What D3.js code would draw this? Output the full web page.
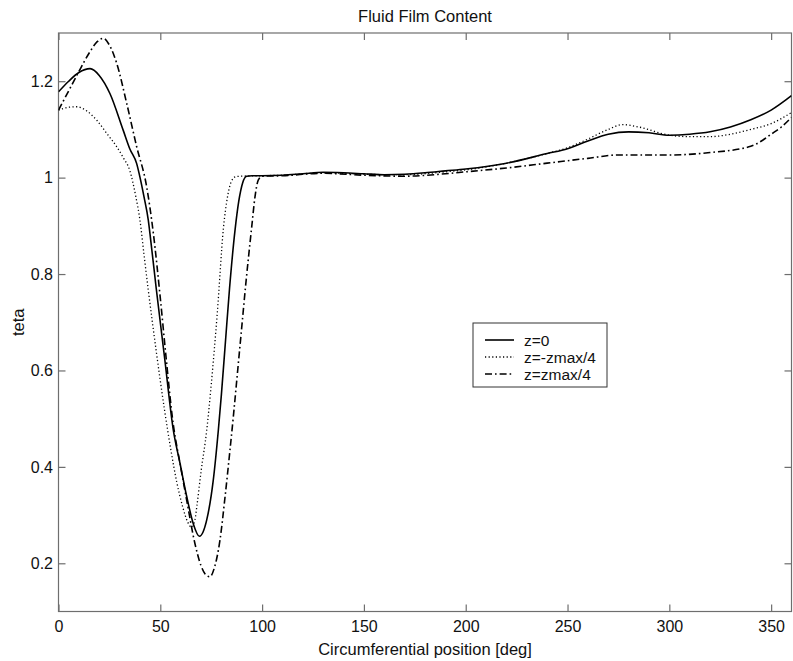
<!DOCTYPE html>
<html>
<head>
<meta charset="utf-8">
<script src="https://cdn.jsdelivr.net/npm/d3@7"></script>
<style>
  html, body { margin: 0; padding: 0; background: #fff; }
  svg { display: block; font-family: "Liberation Sans", Arial, sans-serif; }
</style>
</head>
<body>
<svg id="chart" width="793" height="661"></svg>
<script>
// ---- data ----
const title = "Fluid Film Content";
const xLabel = "Circumferential position [deg]";
const yLabel = "teta";
const xTicks = [0, 50, 100, 150, 200, 250, 300, 350];
const yTicks = [0.2, 0.4, 0.6, 0.8, 1, 1.2];
const seriesNames = ["z=0", "z=-zmax/4", "z=zmax/4"];

const solidX = [0, 5, 10, 15.5, 20, 25.3, 31.8, 35, 38.4, 40, 42, 44.1, 45.3, 48, 52, 56.4, 59.7, 63, 66.2, 69.2, 71, 72.8, 76, 78.5, 80, 82, 84, 86.7, 88.5, 90.5, 92.4, 95, 100, 110, 120, 130, 140, 150, 160, 170, 180, 190, 200, 220, 240, 250, 260, 270, 280, 290, 300, 310, 320, 330, 340, 350, 360];
const solidY = [1.178, 1.2, 1.218, 1.226, 1.212, 1.174, 1.098, 1.06, 1.029, 1.001, 0.96, 0.912, 0.87, 0.77, 0.63, 0.476, 0.407, 0.338, 0.282, 0.256, 0.265, 0.29, 0.372, 0.476, 0.55, 0.66, 0.77, 0.891, 0.95, 0.99, 1.003, 1.004, 1.004, 1.005, 1.008, 1.011, 1.01, 1.008, 1.006, 1.007, 1.01, 1.014, 1.018, 1.03, 1.05, 1.06, 1.076, 1.09, 1.095, 1.093, 1.088, 1.09, 1.095, 1.105, 1.12, 1.14, 1.17];

const dottedX = [0, 5, 9, 14, 18.8, 24, 28.6, 32, 35, 38, 40, 42, 44, 48, 52, 55, 58, 61, 63.5, 65.4, 67, 68, 70, 72.8, 75, 78, 81, 83, 85, 87, 90, 100, 110, 130, 150, 170, 190, 200, 220, 240, 250, 260, 270, 277, 285, 300, 310, 320, 330, 340, 350, 360];
const dottedY = [1.14, 1.146, 1.147, 1.138, 1.119, 1.09, 1.064, 1.04, 1.015, 0.96, 0.912, 0.84, 0.77, 0.64, 0.52, 0.44, 0.37, 0.317, 0.285, 0.275, 0.29, 0.32, 0.39, 0.476, 0.57, 0.72, 0.895, 0.96, 0.993, 1.002, 1.003, 1.004, 1.005, 1.01, 1.007, 1.006, 1.012, 1.016, 1.03, 1.05, 1.062, 1.08, 1.1, 1.11, 1.105, 1.088, 1.085, 1.085, 1.09, 1.1, 1.112, 1.135];

const dashX = [0, 5, 10, 15, 19, 22, 25, 28.6, 33.5, 38.4, 43.3, 46.6, 50, 53, 56, 60, 63, 67, 70, 72, 74.4, 76.5, 79.3, 81.8, 84.2, 86, 88, 90, 92, 94.9, 96.5, 98.1, 100, 110, 130, 150, 170, 190, 200, 220, 240, 260, 275, 300, 320, 340, 346, 350, 355, 360];
const dashY = [1.14, 1.18, 1.22, 1.258, 1.282, 1.289, 1.275, 1.237, 1.154, 1.064, 0.981, 0.884, 0.75, 0.62, 0.5, 0.4, 0.33, 0.241, 0.195, 0.178, 0.172, 0.19, 0.248, 0.338, 0.434, 0.51, 0.6, 0.69, 0.78, 0.898, 0.96, 0.995, 1.003, 1.004, 1.009, 1.005, 1.003, 1.008, 1.012, 1.02, 1.03, 1.04, 1.047, 1.047, 1.052, 1.065, 1.078, 1.09, 1.105, 1.125];

// ---- layout ----
const svg = d3.select("#chart");
const L = 58.5, R = 791.5, T = 33, B = 611.5;
const x = d3.scaleLinear().domain([0, 360]).range([L, R]);
const y = d3.scaleLinear().domain([0.1, 1.3]).range([B, T]);
const axisColor = "#6e6e6e";
const tickLen = 7;

// frame
svg.append("rect").attr("x", L).attr("y", T).attr("width", R - L).attr("height", B - T)
  .attr("fill", "none").attr("stroke", axisColor).attr("stroke-width", 1.2);

// axes via d3 (inward ticks)
const gx = svg.append("g").attr("transform", `translate(0,${B})`)
  .call(d3.axisBottom(x).tickValues(xTicks).tickSizeInner(-tickLen).tickSizeOuter(0).tickPadding(9).tickFormat(d3.format("")));
const gxT = svg.append("g").attr("transform", `translate(0,${T})`)
  .call(d3.axisTop(x).tickValues(xTicks).tickSizeInner(-tickLen).tickSizeOuter(0).tickFormat(""));
const gy = svg.append("g").attr("transform", `translate(${L},0)`)
  .call(d3.axisLeft(y).tickValues(yTicks).tickSizeInner(-tickLen).tickSizeOuter(0).tickPadding(5.5).tickFormat(d3.format("")));
const gyR = svg.append("g").attr("transform", `translate(${R},0)`)
  .call(d3.axisRight(y).tickValues(yTicks).tickSizeInner(-tickLen).tickSizeOuter(0).tickFormat(""));
[gx, gxT, gy, gyR].forEach(g => {
  g.select(".domain").remove();
  g.selectAll(".tick line").attr("stroke", axisColor).attr("stroke-width", 1.2);
  g.selectAll("text").attr("fill", "#111").style("font-size", "16px");
});

// lines
const line = d3.line().x(d => x(d[0])).y(d => y(d[1])).curve(d3.curveMonotoneX);
const series = [
  { name: seriesNames[0], xs: solidX, ys: solidY, dash: null, w: 1.6 },
  { name: seriesNames[1], xs: dottedX, ys: dottedY, dash: "1.2,2.4", w: 1.3 },
  { name: seriesNames[2], xs: dashX, ys: dashY, dash: "7,3,1.6,3", w: 1.6 }
];
svg.append("clipPath").attr("id", "clip").append("rect")
  .attr("x", L).attr("y", T).attr("width", R - L).attr("height", B - T);
series.forEach(s => {
  svg.append("path").datum(s.xs.map((v, i) => [v, s.ys[i]]))
    .attr("d", line).attr("fill", "none").attr("stroke", "#000")
    .attr("stroke-width", s.w).attr("stroke-dasharray", s.dash)
    .attr("clip-path", "url(#clip)");
});

// title and labels
svg.append("text").attr("x", (L + R) / 2).attr("y", 22).attr("text-anchor", "middle")
  .style("font-size", "16.5px").attr("fill", "#111").text(title);
svg.append("text").attr("x", (L + R) / 2).attr("y", 655).attr("text-anchor", "middle")
  .style("font-size", "16.5px").attr("fill", "#111").text(xLabel);
svg.append("text").attr("transform", `translate(24,${(T + B) / 2}) rotate(-90)`).attr("text-anchor", "middle")
  .style("font-size", "16.5px").attr("fill", "#111").text(yLabel);

// legend
const lg = svg.append("g");
lg.append("rect").attr("x", 473).attr("y", 323).attr("width", 134).attr("height", 64)
  .attr("fill", "#fff").attr("stroke", "#333").attr("stroke-width", 1);
series.forEach((s, i) => {
  const ly = 340 + i * 17;
  lg.append("line").attr("x1", 485).attr("x2", 514).attr("y1", ly).attr("y2", ly)
    .attr("stroke", "#000").attr("stroke-width", s.w).attr("stroke-dasharray", s.dash);
  lg.append("text").attr("x", 524).attr("y", ly + 5.5).style("font-size", "15.5px").attr("fill", "#111").text(s.name);
});
</script>
</body>
</html>
